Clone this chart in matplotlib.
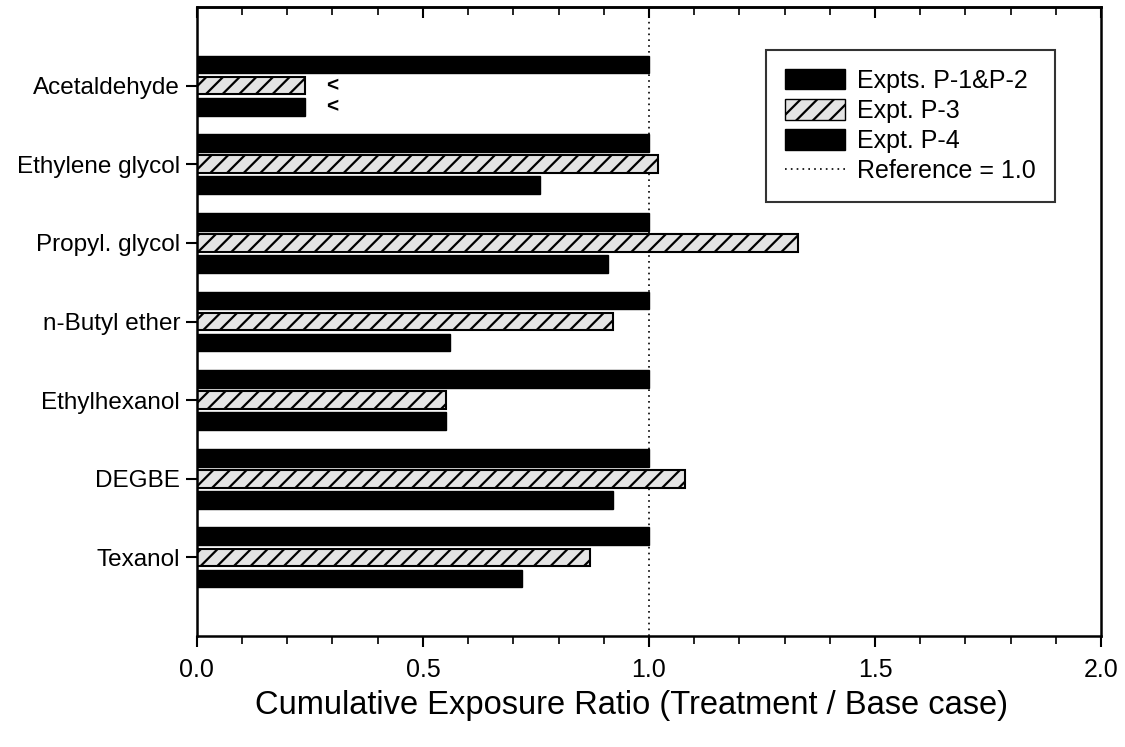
import numpy as np
import matplotlib.pyplot as plt
from matplotlib.ticker import MultipleLocator
from matplotlib.lines import Line2D
from matplotlib.patches import Patch

plt.rcParams['font.family'] = ['Liberation Sans', 'DejaVu Sans']
plt.rcParams['hatch.linewidth'] = 1.6

compounds = ["Acetaldehyde", "Ethylene glycol", "Propyl. glycol", "n-Butyl ether",
             "Ethylhexanol", "DEGBE", "Texanol"]
expt_p12 = [1.0, 1.0, 1.0, 1.0, 1.0, 1.0, 1.0]
expt_p3 = [0.24, 1.02, 1.33, 0.92, 0.55, 1.08, 0.87]
expt_p4 = [0.24, 0.76, 0.91, 0.56, 0.55, 0.92, 0.72]
# upper-limit markers ("<") for values below detection
less_than_p3 = [True, False, False, False, False, False, False]
less_than_p4 = [True, False, False, False, False, False, False]

fig = plt.figure(figsize=(11.25, 7.47), dpi=100)
ax = fig.add_axes([0.175, 0.1486, 0.8037, 0.842])

pos = np.arange(1, len(compounds) + 1)
h = 0.225
off = 0.268

ax.barh(pos - off, expt_p12, height=h, color='black', edgecolor='black', linewidth=1)
ax.barh(pos, expt_p3, height=h, color='#e4e4e4', edgecolor='black', linewidth=1.5, hatch='//')
ax.barh(pos + off, expt_p4, height=h, color='black', edgecolor='black', linewidth=1)

for i, p in enumerate(pos):
    if less_than_p3[i]:
        ax.text(0.30, p, "<", fontsize=15, fontweight='bold', ha='center', va='center')
    if less_than_p4[i]:
        ax.text(0.30, p + off, "<", fontsize=15, fontweight='bold', ha='center', va='center')

ax.axvline(1.0, color='black', linestyle=(0, (1, 2.5)), linewidth=1.2, zorder=0.5)

ax.set_xlim(0, 2.0)
ax.set_ylim(8, 0)
ax.set_yticks(pos)
ax.set_yticklabels(compounds, fontsize=17.5)
ax.xaxis.set_major_locator(MultipleLocator(0.5))
ax.xaxis.set_minor_locator(MultipleLocator(0.1))
ax.xaxis.set_major_formatter(plt.FormatStrFormatter('%.1f'))
ax.tick_params(axis='x', which='major', direction='out', length=8, width=1.5, labelsize=18, pad=8)
ax.tick_params(axis='x', which='minor', direction='out', length=6, width=1.2)
ax.tick_params(axis='y', direction='out', length=8, width=1.5, pad=4)

top = ax.secondary_xaxis('top')
top.xaxis.set_major_locator(MultipleLocator(0.5))
top.xaxis.set_minor_locator(MultipleLocator(0.1))
top.tick_params(which='major', direction='in', length=8, width=1.5, labeltop=False)
top.tick_params(which='minor', direction='in', length=6, width=1.2)
top.spines['top'].set_linewidth(1.8)

for s in ax.spines.values():
    s.set_linewidth(1.8)

ax.set_xlabel("Cumulative Exposure Ratio (Treatment / Base case)", fontsize=23.5)
ax.xaxis.set_label_coords(0.481, -0.086)
ax.xaxis.label.set_va('top')

handles = [
    Patch(facecolor='black', edgecolor='black', label="Expts. P-1&P-2"),
    Patch(facecolor='#e4e4e4', edgecolor='black', hatch='//', label="Expt. P-3"),
    Patch(facecolor='black', edgecolor='black', label="Expt. P-4"),
    Line2D([], [], color='black', linestyle=(0, (1, 2.5)), linewidth=1.2, label="Reference = 1.0"),
]
leg = ax.legend(handles=handles, loc='upper right', bbox_to_anchor=(0.949, 0.932),
                fontsize=18, frameon=True, fancybox=False, edgecolor='black',
                handlelength=2.4, handleheight=0.9, labelspacing=0.25, borderpad=0.75,
                handletextpad=0.5, borderaxespad=0)
leg.get_frame().set_linewidth(1.5)

fig.savefig("out.png", dpi=100)
